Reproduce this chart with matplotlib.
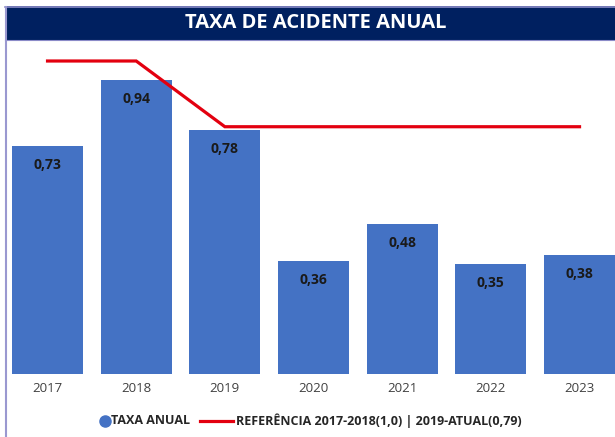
import matplotlib
matplotlib.use("Agg")
import matplotlib.pyplot as plt
from matplotlib.patches import Rectangle
from matplotlib.lines import Line2D

plt.rcParams['font.family'] = ['Open Sans', 'DejaVu Sans']

years = ["2017", "2018", "2019", "2020", "2021", "2022", "2023"]
taxa_anual = [0.73, 0.94, 0.78, 0.36, 0.48, 0.35, 0.38]
referencia = [1.0, 1.0, 0.79, 0.79, 0.79, 0.79, 0.79]
value_labels = ["0,73", "0,94", "0,78", "0,36", "0,48", "0,35", "0,38"]
legend_labels = ["TAXA ANUAL", "REFERÊNCIA 2017-2018(1,0) | 2019-ATUAL(0,79)"]

W, H = 615, 437
fig = plt.figure(figsize=(W / 100, H / 100), dpi=100)
fig.patch.set_facecolor("white")


def fx(px):
    return px / W


def fy(py):
    return 1 - py / H


# plot area: baseline at y=374 px, top just under the title band
left_px, right_px = 3.2, 615
bottom_px, top_px = 374, 41
ax = fig.add_axes([fx(left_px), fy(bottom_px),
                   (right_px - left_px) / W, (bottom_px - top_px) / H])

x = list(range(len(years)))
bar_color = "#4472C4"
ref_color = "#E3000F"
ax.bar(x, taxa_anual, width=0.8, color=bar_color, zorder=2)
ax.plot(x, referencia, color=ref_color, lw=2.3, zorder=3,
        solid_joinstyle="miter")

for xi, v, lab in zip(x, taxa_anual, value_labels):
    ax.annotate(lab, (xi, v), xytext=(0, -19), textcoords="offset pixels",
                ha="center", va="center", fontsize=10, fontweight="bold",
                color="#1a1a1a", zorder=4)

ax.set_xlim(-0.5, 6.40)
ax.set_ylim(0, (bottom_px - top_px) / 313.0)
ax.set_xticks(x)
ax.set_xticklabels(years, fontsize=9.5, color="#404040")
ax.tick_params(axis="x", length=0, pad=6)
ax.set_yticks([])
for s in ax.spines.values():
    s.set_visible(False)
ax.set_facecolor("none")

# title band and frame lines
fig.patches.append(Rectangle((fx(5), fy(40)), (W - 5) / W, 34 / H,
                             transform=fig.transFigure, facecolor="#002060",
                             edgecolor="none", zorder=0))
fig.lines.append(Line2D([fx(5), 1], [fy(6.5), fy(6.5)],
                        transform=fig.transFigure, color="#8B8BC8", lw=1.2))
fig.lines.append(Line2D([fx(5), 1], [fy(40), fy(40)],
                        transform=fig.transFigure, color="#8B8BC8", lw=0.8))
fig.lines.append(Line2D([fx(5.5), fx(5.5)], [0, fy(6.5)],
                        transform=fig.transFigure, color="#9A98D0", lw=1.5))
fig.text(fx(316), fy(23), "TAXA DE ACIDENTE ANUAL", ha="center", va="center",
         fontsize=14.5, fontweight="bold", color="white")

# legend drawn along the bottom
ly = fy(421)
fig.lines.append(Line2D([fx(105)], [ly], transform=fig.transFigure,
                        marker="o", markersize=8, color=bar_color, ls="none"))
fig.text(fx(111), ly, legend_labels[0], ha="left", va="center",
         fontsize=9, fontweight="bold", color="#262626")
fig.lines.append(Line2D([fx(200), fx(233)], [ly, ly],
                        transform=fig.transFigure, color=ref_color, lw=2.3))
fig.text(fx(236), ly, legend_labels[1], ha="left", va="center",
         fontsize=9, fontweight="bold", color="#262626")

fig.savefig("out.png", dpi=100)
